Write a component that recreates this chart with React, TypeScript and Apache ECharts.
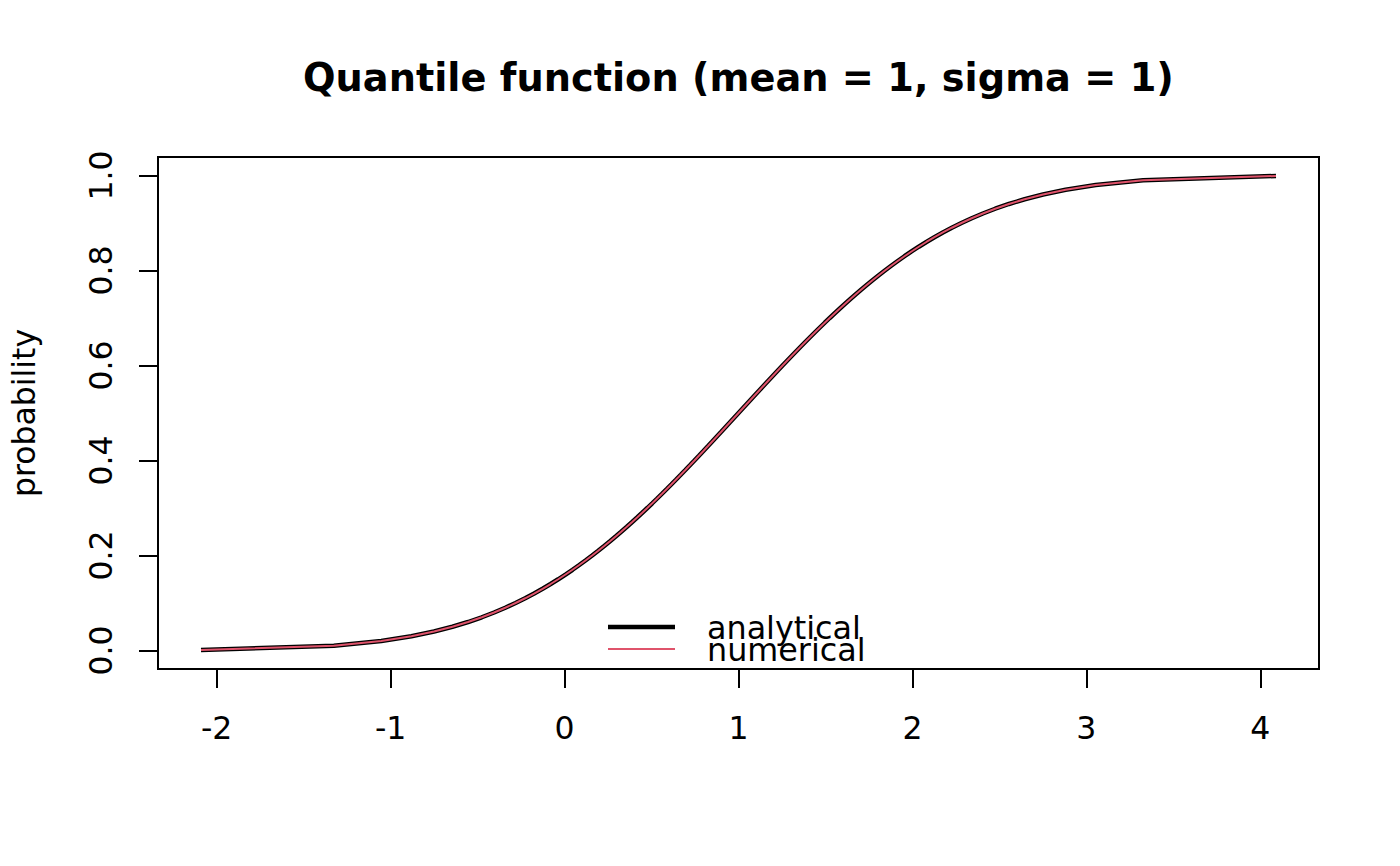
import React, { useEffect, useRef } from "react";
import * as echarts from "echarts";

// probability levels
const probs: number[] = [
  0.001, 0.01, 0.02, 0.03, 0.04, 0.05, 0.06, 0.07, 0.08, 0.09, 0.1,
  0.11, 0.12, 0.13, 0.14, 0.15, 0.16, 0.17, 0.18, 0.19, 0.2,
  0.21, 0.22, 0.23, 0.24, 0.25, 0.26, 0.27, 0.28, 0.29, 0.3,
  0.31, 0.32, 0.33, 0.34, 0.35, 0.36, 0.37, 0.38, 0.39, 0.4,
  0.41, 0.42, 0.43, 0.44, 0.45, 0.46, 0.47, 0.48, 0.49, 0.5,
  0.51, 0.52, 0.53, 0.54, 0.55, 0.56, 0.57, 0.58, 0.59, 0.6,
  0.61, 0.62, 0.63, 0.64, 0.65, 0.66, 0.67, 0.68, 0.69, 0.7,
  0.71, 0.72, 0.73, 0.74, 0.75, 0.76, 0.77, 0.78, 0.79, 0.8,
  0.81, 0.82, 0.83, 0.84, 0.85, 0.86, 0.87, 0.88, 0.89, 0.9,
  0.91, 0.92, 0.93, 0.94, 0.95, 0.96, 0.97, 0.98, 0.99, 0.999,
];

// analytical quantiles (mean = 1, sigma = 1)
const analytical: number[] = [
  -2.0902, -1.3263, -1.0537, -0.8808, -0.7507, -0.6449, -0.5548, -0.4758, -0.4051, -0.3408, -0.2816,
  -0.2265, -0.175, -0.1264, -0.0803, -0.0364, 0.0055, 0.0458, 0.0846, 0.1221, 0.1584,
  0.1936, 0.2278, 0.2612, 0.2937, 0.3255, 0.3567, 0.3872, 0.4172, 0.4466, 0.4756,
  0.5041, 0.5323, 0.5601, 0.5875, 0.6147, 0.6415, 0.6681, 0.6945, 0.7207, 0.7467,
  0.7725, 0.7981, 0.8236, 0.849, 0.8743, 0.8996, 0.9247, 0.9498, 0.9749, 1.0,
  1.0251, 1.0502, 1.0753, 1.1004, 1.1257, 1.151, 1.1764, 1.2019, 1.2275, 1.2533,
  1.2793, 1.3055, 1.3319, 1.3585, 1.3853, 1.4125, 1.4399, 1.4677, 1.4959, 1.5244,
  1.5534, 1.5828, 1.6128, 1.6433, 1.6745, 1.7063, 1.7388, 1.7722, 1.8064, 1.8416,
  1.8779, 1.9154, 1.9542, 1.9945, 2.0364, 2.0803, 2.1264, 2.175, 2.2265, 2.2816,
  2.3408, 2.4051, 2.4758, 2.5548, 2.6449, 2.7507, 2.8808, 3.0537, 3.3263, 4.0902,
];

// numerical quantiles (visually identical to analytical)
const numerical: number[] = [...analytical];

const xTicks: number[] = [-2, -1, 0, 1, 2, 3, 4];
const yTicks: number[] = [0, 0.2, 0.4, 0.6, 0.8, 1.0];

const FONT = "DejaVu Sans";

// legend icons: horizontal band inside a 67x21 box (tiny corner dots fix the box)
const ICON_THICK = "path://M0,0h0.01v0.01h-0.01Z M0,8.25H67V12.75H0Z M66.99,20.99h0.01v0.01h-0.01Z";
const ICON_THIN = "path://M0,0h0.01v0.01h-0.01Z M0,9.5H67V11.5H0Z M66.99,20.99h0.01v0.01h-0.01Z";

export default function App() {
  const ref = useRef<HTMLDivElement>(null);
  useEffect(() => {
    if (!ref.current) return;
    const chart = echarts.init(ref.current, null, { renderer: "svg" });
    chart.setOption({
      animation: false,
      backgroundColor: "#ffffff",
      title: {
        text: "Quantile function (mean = 1, sigma = 1)",
        left: 303,
        top: 58,
        padding: 0,
        textStyle: { fontFamily: FONT, fontSize: 38.3, fontWeight: "bold", color: "#000" },
      },
      legend: {
        orient: "vertical",
        left: 608,
        top: 611,
        padding: 0,
        itemGap: -10,
        itemWidth: 67,
        itemHeight: 21,
        selectedMode: false,
        data: [
          { name: "analytical", icon: ICON_THICK },
          { name: "numerical", icon: ICON_THIN },
        ],
        textStyle: {
          fontFamily: FONT,
          fontSize: 31.8,
          color: "#000",
          padding: [0, 0, 0, 27],
        },
      },
      grid: {
        left: 158,
        top: 157,
        width: 1161,
        height: 512,
        show: true,
        borderColor: "#000",
        borderWidth: 2,
        backgroundColor: "transparent",
      },
      xAxis: {
        type: "value",
        min: -2.3374,
        max: 4.3374,
        axisLine: { show: false, onZero: false },
        splitLine: { show: false },
        axisTick: {
          show: true,
          length: 19,
          customValues: xTicks,
          lineStyle: { color: "#000", width: 2 },
        },
        axisLabel: {
          customValues: xTicks,
          margin: 43,
          fontFamily: FONT,
          fontSize: 31.5,
          color: "#000",
          formatter: (v: number) => String(v),
        },
      },
      yAxis: {
        type: "value",
        min: -0.0389,
        max: 1.0389,
        name: "probability",
        nameLocation: "middle",
        nameGap: 118,
        nameTextStyle: { fontFamily: FONT, fontSize: 31.5, color: "#000" },
        axisLine: { show: false, onZero: false },
        splitLine: { show: false },
        axisTick: {
          show: true,
          length: 19,
          customValues: yTicks,
          lineStyle: { color: "#000", width: 2 },
        },
        axisLabel: {
          customValues: yTicks,
          rotate: 90,
          margin: 41,
          fontFamily: FONT,
          fontSize: 31.5,
          color: "#000",
          formatter: (v: number) => v.toFixed(1),
        },
      },
      series: [
        {
          name: "analytical",
          type: "line",
          symbol: "none",
          data: analytical.map((x, i) => [x, probs[i]]),
          lineStyle: { color: "#000000", width: 4.5 },
          itemStyle: { color: "#000000" },
        },
        {
          name: "numerical",
          type: "line",
          symbol: "none",
          data: numerical.map((x, i) => [x, probs[i]]),
          lineStyle: { color: "#DF536B", width: 2 },
          itemStyle: { color: "#DF536B" },
        },
      ],
    });
    return () => chart.dispose();
  }, []);
  return (
    <div
      ref={ref}
      style={{ position: "absolute", left: 0, top: 0, width: 1400, height: 866 }}
    />
  );
}
